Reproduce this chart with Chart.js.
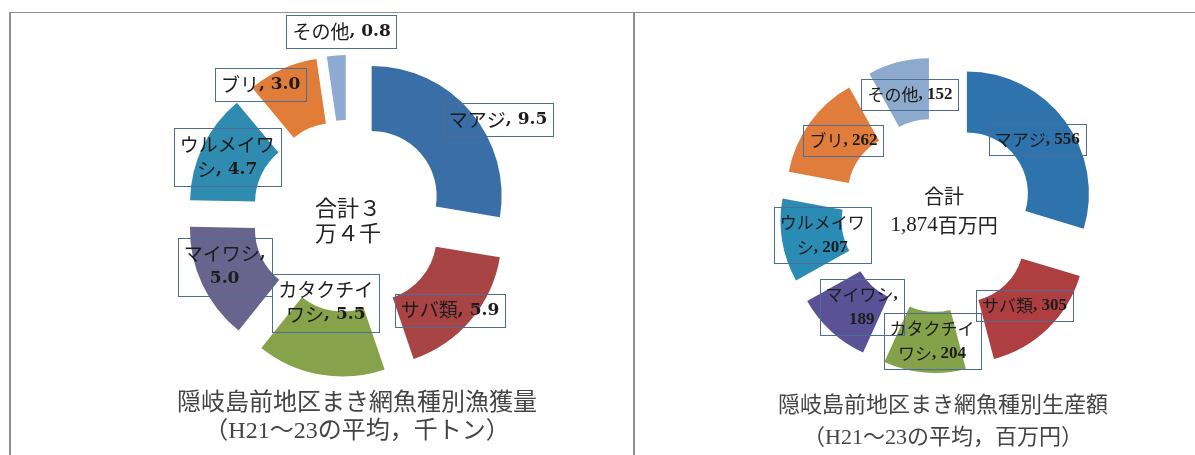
<!DOCTYPE html>
<html lang="ja">
<head>
<meta charset="utf-8">
<title>隠岐島前地区まき網魚種別</title>
<script src="https://cdn.jsdelivr.net/npm/chart.js@4.4.1/dist/chart.umd.min.js"></script>
<style>
  body { margin: 0; background: #fff; }
  #page { position: relative; width: 1195px; height: 455px; overflow: hidden; background: #fff; }
  .rule { position: absolute; background: #8f8f8f; }
  canvas { position: absolute; }
  .caption { position: absolute; width: 420px; text-align: center; color: #444;
             font-family: "Liberation Serif", "Noto Sans CJK JP", serif; white-space: nowrap; }
</style>
</head>
<body>
<div id="page">
  <div class="rule" style="left:9px;top:12px;width:1186px;height:1px"></div>
  <div class="rule" style="left:9px;top:12px;width:2px;height:443px"></div>
  <div class="rule" style="left:633px;top:12px;width:2px;height:443px"></div>
  <canvas id="catchChart" width="622" height="442" style="left:10px;top:13px;width:622px;height:442px"></canvas>
  <canvas id="valueChart" width="561" height="442" style="left:634px;top:13px;width:561px;height:442px"></canvas>
  <div class="caption" id="catchCaption" style="left:147px;top:388px;font-size:24px;line-height:28px"></div>
  <div class="caption" id="valueCaption" style="left:733px;top:389px;font-size:22px;line-height:32px"></div>
</div>
<script>
// species, clockwise from the top
var categories = ['マアジ', 'サバ類', 'カタクチイワシ', 'マイワシ', 'ウルメイワシ', 'ブリ', 'その他'];
// landings, thousand tonnes (H21-23 average)
var catchValues = [9.5, 5.9, 5.5, 5.0, 4.7, 3.0, 0.8];
// production value, million yen (H21-23 average)
var valueAmounts = [556, 305, 204, 189, 207, 262, 152];

var catchTotal = ['合計３', '万４千'];
var valueTotal = ['合計', '1,874百万円'];
var catchTitle = ['隠岐島前地区まき網魚種別漁獲量', '（H21～23の平均，千トン）'];
var valueTitle = ['隠岐島前地区まき網魚種別生産額', '（H21～23の平均，百万円）'];

var catchColors = ['#3a6ea6', '#a94445', '#86a24b', '#68648d', '#2f8cb0', '#e17c39', '#8eaad2'];
var valueColors = ['#2f73ad', '#ae3e3f', '#84a24a', '#5b5197', '#2a8bb4', '#e07c3c', '#8caacd'];

// where a label's text wraps onto a second line (0 = single line)
var wrapAt = [0, 0, 5, 5, 5, 0, 0];

document.getElementById('catchCaption').innerHTML = catchTitle.join('<br>');
document.getElementById('valueCaption').innerHTML = valueTitle.join('<br>');

// wide (CJK) characters and latin ones get different fonts
function isWide(ch) { return ch.charCodeAt(0) > 0x2e7f; }

function textWidth(ctx, text, fonts) {
    var w = 0;
    for (var i = 0; i < text.length; i++) {
        ctx.font = isWide(text[i]) ? fonts.wide : fonts.latin;
        w += ctx.measureText(text[i]).width;
    }
    return w;
}

function drawMixed(ctx, text, x, y, fonts) {
    ctx.textBaseline = 'middle';
    ctx.textAlign = 'left';
    for (var i = 0; i < text.length; i++) {
        ctx.font = isWide(text[i]) ? fonts.wide : fonts.latin;
        ctx.fillText(text[i], x, y);
        x += ctx.measureText(text[i]).width;
    }
}

// pull every slice out from the centre along its middle angle
function explode(distance) {
    return {
        id: 'explode',
        afterDatasetUpdate: function (chart, args) {
            args.meta.data.forEach(function (arc) {
                var mid = (arc.startAngle + arc.endAngle) / 2;
                arc.x += Math.cos(mid) * distance;
                arc.y += Math.sin(mid) * distance;
            });
        }
    };
}

// boxed "name, value" labels near each slice
function sliceLabels(s) {
    return {
        id: 'sliceLabels',
        afterDatasetsDraw: function (chart) {
            var ctx = chart.ctx;
            var arcs = chart.getDatasetMeta(0).data;
            var values = chart.data.datasets[0].data;
            ctx.save();
            arcs.forEach(function (arc, i) {
                var text = chart.data.labels[i] + ', ' + values[i].toFixed(s.decimals);
                var lines = wrapAt[i] ? [text.slice(0, wrapAt[i]), text.slice(wrapAt[i]).trim()] : [text];
                var mid = (arc.startAngle + arc.endAngle) / 2;
                var rm = (arc.innerRadius + arc.outerRadius) / 2;
                var cx = arc.x + Math.cos(mid) * rm + s.nudge[i][0];
                var cy = arc.y + Math.sin(mid) * rm + s.nudge[i][1];
                var w = 0;
                lines.forEach(function (l) { w = Math.max(w, textWidth(ctx, l, s.fonts)); });
                w += s.padX * 2;
                var h = lines.length * s.lineHeight + s.padY * 2;
                ctx.strokeStyle = s.boxColor;
                ctx.lineWidth = 1;
                ctx.strokeRect(Math.round(cx - w / 2) + 0.5, Math.round(cy - h / 2) + 0.5, Math.round(w), Math.round(h));
                ctx.fillStyle = s.color;
                lines.forEach(function (l, k) {
                    var lw = textWidth(ctx, l, s.fonts);
                    drawMixed(ctx, l, cx - lw / 2, cy - h / 2 + s.padY + s.lineHeight * (k + 0.5), s.fonts);
                });
            });
            ctx.restore();
        }
    };
}

// total written in the hole of the ring
function centreText(lines, s) {
    return {
        id: 'centreText',
        afterDatasetsDraw: function (chart) {
            var ctx = chart.ctx;
            var a = chart.chartArea;
            var x = (a.left + a.right) / 2, y = (a.top + a.bottom) / 2;
            ctx.save();
            ctx.fillStyle = '#222';
            lines.forEach(function (l, k) {
                var lw = textWidth(ctx, l, s.fonts);
                drawMixed(ctx, l, x + s.dx - lw / 2, y + s.dy[k], s.fonts);
            });
            ctx.restore();
        }
    };
}

function ringChart(id, values, colors, radius, padding, plugins) {
    return new Chart(document.getElementById(id), {
        type: 'doughnut',
        data: {
            labels: categories,
            datasets: [{ data: values, backgroundColor: colors, borderWidth: 0 }]
        },
        options: {
            responsive: false,
            animation: false,
            radius: radius,
            cutout: '50%',
            layout: { padding: padding },
            plugins: { legend: { display: false }, tooltip: { enabled: false } }
        },
        plugins: plugins
    });
}

ringChart('catchChart', catchValues, catchColors, 130, { left: 54, bottom: 36 }, [
    explode(31),
    sliceLabels({
        decimals: 1,
        nudge: [[52, -13], [4, 11], [0, -40], [-7, -4], [-5, -3], [-35, -14], [3, -56]],
        fonts: { wide: '19px "Noto Sans CJK JP"', latin: 'bold 17px "DejaVu Serif"' },
        lineHeight: 25, padX: 6, padY: 4,
        boxColor: '#4d6c96', color: '#1c1c1c'
    }),
    centreText(catchTotal, {
        fonts: { wide: '22px "Noto Sans CJK JP"', latin: '22px "Liberation Serif"' },
        dx: 0, dy: [-8, 17]
    })
]);

ringChart('valueChart', valueAmounts, valueColors, 122, { left: 47, bottom: 38 }, [
    explode(36),
    sliceLabels({
        decimals: 0,
        nudge: [[-3, 1], [-2, -1], [5, -1], [10, -2], [10, -1], [9, 0], [4, 3]],
        fonts: { wide: '17px "Noto Sans CJK JP"', latin: 'bold 17px "Liberation Serif"' },
        lineHeight: 25, padX: 6, padY: 3,
        boxColor: '#4d6c96', color: '#1c1c1c'
    }),
    centreText(valueTotal, {
        fonts: { wide: '20px "Noto Sans CJK JP"', latin: '21px "Liberation Serif"' },
        dx: 6, dy: [-19, 10]
    })
]);
</script>
</body>
</html>
